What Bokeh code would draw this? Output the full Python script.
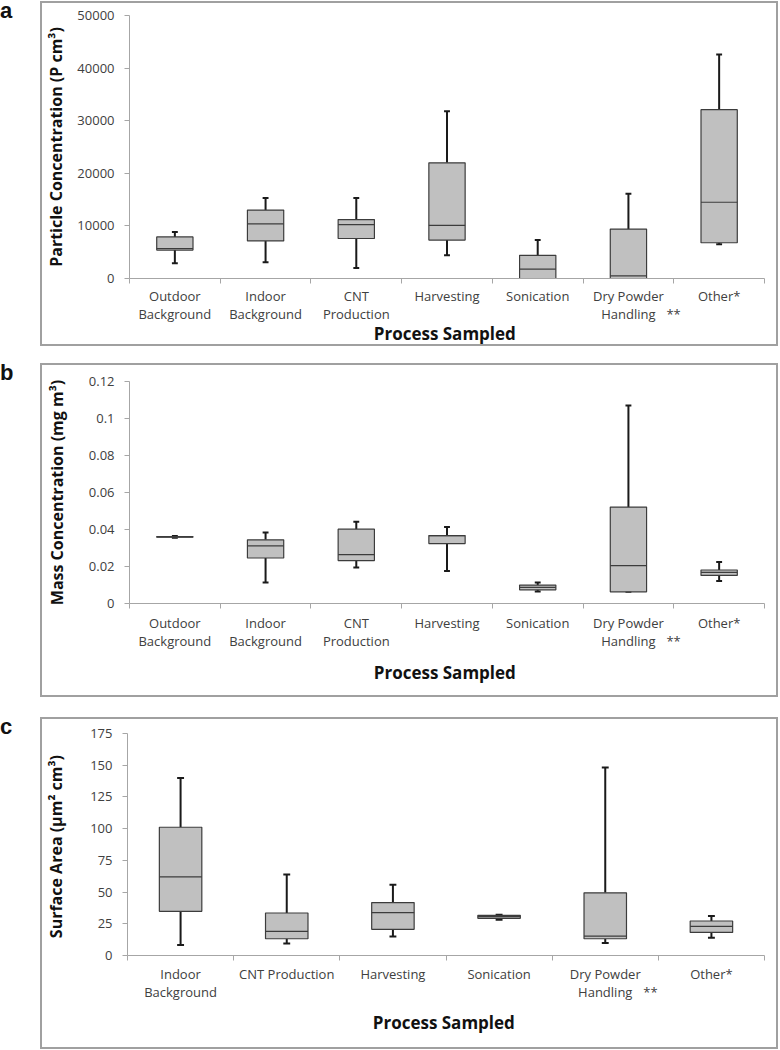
from bokeh.plotting import figure
from bokeh.layouts import column, row, Spacer
from bokeh.models import (Div, FixedTicker, CustomJSTickFormatter,
                          Range1d, ColumnDataSource)
from bokeh.embed import file_html
from bokeh.resources import INLINE

# ---------------- data ----------------
cats_a = ["Outdoor\nBackground", "Indoor\nBackground", "CNT\nProduction",
          "Harvesting", "Sonication", "Dry Powder\nHandling", "Other*"]
a_low = [2900, 3100, 2000, 4400, 0, 0, 6500]
a_q1 = [5400, 7150, 7600, 7300, 0, 0, 6800]
a_med = [5700, 10400, 10250, 10100, 1800, 500, 14500]
a_q3 = [7900, 13000, 11200, 22000, 4400, 9400, 32100]
a_high = [8850, 15300, 15300, 31800, 7300, 16100, 42600]
a_yticks = [0, 10000, 20000, 30000, 40000, 50000]

cats_b = cats_a
b_low = [0.0355, 0.0114, 0.0194, 0.0176, 0.0065, 0.0063, 0.0121]
b_q1 = [0.0358, 0.0246, 0.0232, 0.0324, 0.0074, 0.0063, 0.0152]
b_med = [0.0360, 0.0311, 0.0264, 0.0367, 0.0087, 0.0205, 0.0168]
b_q3 = [0.0362, 0.0344, 0.0402, 0.0367, 0.00995, 0.0521, 0.0181]
b_high = [0.0365, 0.0384, 0.0442, 0.0414, 0.0114, 0.107, 0.0224]
b_yticks = [0, 0.02, 0.04, 0.06, 0.08, 0.1, 0.12]

cats_c = ["Indoor\nBackground", "CNT Production", "Harvesting", "Sonication",
          "Dry Powder\nHandling", "Other*"]
c_low = [8.2, 9.5, 15.0, 28.2, 9.8, 14.0]
c_q1 = [34.8, 13.2, 20.6, 29.3, 13.2, 18.2]
c_med = [62.0, 19.0, 33.8, 30.6, 15.3, 23.0]
c_q3 = [101.1, 33.5, 41.7, 31.7, 49.4, 27.2]
c_high = [139.9, 63.9, 55.7, 32.2, 148.1, 31.1]
c_yticks = [0, 25, 50, 75, 100, 125, 150, 175]

x_title = "Process  Sampled"
y_titles = ["Particle Concentration (P cm³)", "Mass Concentration (mg m³)",
            "Surface Area  (µm² cm³)"]
letters = ["a", "b", "c"]
star_cat = "Dry Powder\nHandling"
star_text = " \n**"

FONT = "Open Sans"
BOX_W = 0.4
CAP_W = 0.065
PANEL_W = 738
FRAME_W = 633  # approx plot-area width in px, used to place the "**" note
STAR_SHIFT_PX = 45


def make_panel(cats, low, q1, med, q3, high, yticks, ytitle, h,
               mb_left, mb_top, mb_bottom, ylab_standoff, xtick_standoff,
               xlab_standoff):
    n = len(cats)
    xs = [i + 0.5 for i in range(n)]
    src = ColumnDataSource(dict(
        x=xs, low=low, q1=q1, med=med, q3=q3, high=high,
        x0=[x - BOX_W / 2 for x in xs], x1=[x + BOX_W / 2 for x in xs],
        c0=[x - CAP_W / 2 for x in xs], c1=[x + CAP_W / 2 for x in xs],
    ))
    p = figure(width=PANEL_W, height=h, output_backend="svg",
               toolbar_location=None,
               x_range=Range1d(0, n), y_range=Range1d(yticks[0], yticks[-1]),
               min_border_left=mb_left, min_border_right=16,
               min_border_top=mb_top, min_border_bottom=mb_bottom,
               background_fill_color="white", border_fill_color="white")
    p.outline_line_color = None
    p.grid.visible = False

    # whiskers
    for y0, y1 in (("q3", "high"), ("q1", "low")):
        p.segment(x0="x", y0=y0, x1="x", y1=y1, source=src,
                  line_color="#1a1a1a", line_width=2)
    for yy in ("high", "low"):
        p.segment(x0="c0", y0=yy, x1="c1", y1=yy, source=src,
                  line_color="#1a1a1a", line_width=2)
    # boxes
    p.vbar(x="x", width=BOX_W, bottom="q1", top="q3", source=src,
           fill_color="#c0c0c0", line_color="#3c3c3c", line_width=1.2)
    p.segment(x0="x0", y0="med", x1="x1", y1="med", source=src,
              line_color="#3c3c3c", line_width=1.2)

    # x axis: labels at category centres, small ticks at category edges
    k = cats.index(star_cat)
    star_x = xs[k] + STAR_SHIFT_PX / (FRAME_W / n)
    tick_pos = xs + [star_x]
    tick_lab = cats + [star_text]
    xa = p.xaxis[0]
    xa.ticker = FixedTicker(ticks=tick_pos, minor_ticks=list(range(n + 1)))
    xa.formatter = CustomJSTickFormatter(
        args=dict(pos=tick_pos, labels=tick_lab),
        code="""
        let best = 0, d = 1e9;
        for (let i = 0; i < pos.length; i++) {
          const e = Math.abs(pos[i] - tick);
          if (e < d) { d = e; best = i; }
        }
        return labels[best];""")
    xa.major_tick_line_color = None
    xa.major_tick_out = 0
    xa.major_tick_in = 0
    xa.minor_tick_out = 5
    xa.minor_tick_in = 0
    xa.minor_tick_line_color = "#a6a6a6"
    xa.axis_line_color = "#a6a6a6"
    xa.major_label_text_font = FONT
    xa.major_label_text_font_size = "13px"
    xa.major_label_text_color = "#404040"
    xa.major_label_text_line_height = 1.05
    xa.major_label_standoff = xtick_standoff
    xa.axis_label = x_title
    xa.axis_label_text_font = FONT
    xa.axis_label_text_font_style = "bold"
    xa.axis_label_text_font_size = "17px"
    xa.axis_label_text_color = "#111111"
    xa.axis_label_standoff = xlab_standoff

    # y axis
    ya = p.yaxis[0]
    ya.ticker = FixedTicker(ticks=yticks, minor_ticks=[])
    ya.formatter = CustomJSTickFormatter(
        code="return tick == 0 ? '0' : String(+tick.toFixed(4));")
    ya.major_tick_out = 5
    ya.major_tick_in = 0
    ya.major_tick_line_color = "#a6a6a6"
    ya.minor_tick_line_color = None
    ya.axis_line_color = "#a6a6a6"
    ya.major_label_text_font = FONT
    ya.major_label_text_font_size = "13px"
    ya.major_label_text_color = "#404040"
    ya.major_label_standoff = 10
    ya.axis_label = ytitle
    ya.axis_label_text_font = FONT
    ya.axis_label_text_font_style = "bold"
    ya.axis_label_text_font_size = "16px"
    ya.axis_label_text_color = "#111111"
    ya.axis_label_standoff = ylab_standoff

    p.styles = {"border": "2px solid #a0a0a0"}
    return p


pa = make_panel(cats_a, a_low, a_q1, a_med, a_q3, a_high, a_yticks, y_titles[0],
                345, 85, 12, 66, 7, 3, -4)
pb = make_panel(cats_b, b_low, b_q1, b_med, b_q3, b_high, b_yticks, y_titles[1],
                334, 86, 16, 96, 18, 5, 8)
pc = make_panel(cats_c, c_low, c_q1, c_med, c_q3, c_high, c_yticks, y_titles[2],
                332, 83, 14, 96, 20, 4, 7)


def letter(t):
    return Div(text=t, width=40, height=30,
               styles={"font-family": "Liberation Sans", "font-weight": "bold",
                       "font-size": "22px", "line-height": "20px",
                       "color": "#111111", "margin": "0",
                       "overflow": "visible"})


layout = column(
    Spacer(height=1),
    row(letter(letters[0]), pa),
    Spacer(height=17),
    row(letter(letters[1]), pb),
    Spacer(height=20),
    row(letter(letters[2]), pc),
)

open("out.html", "w").write(file_html(layout, INLINE))
